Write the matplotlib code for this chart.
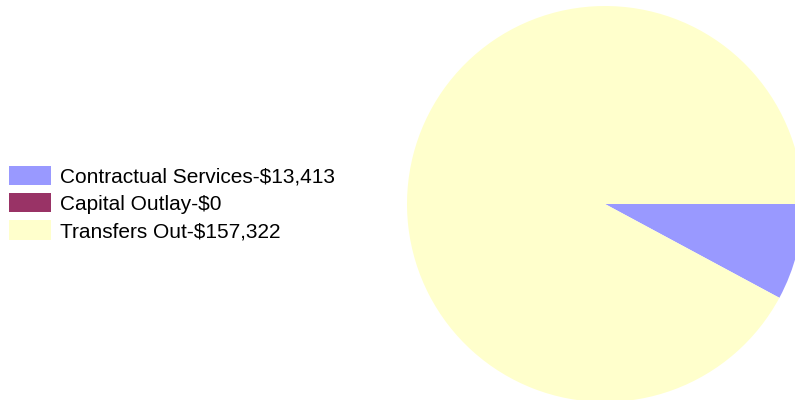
import matplotlib.pyplot as plt

plt.rcParams['font.family'] = ['Liberation Sans', 'DejaVu Sans']

categories = ["Contractual Services", "Capital Outlay", "Transfers Out"]
amounts = [13413, 0, 157322]
colors = ["#9999FF", "#993366", "#FFFFCC"]

labels = [f"{c}-${v:,}" for c, v in zip(categories, amounts)]

fig = plt.figure(figsize=(7.95, 4.0), dpi=100)
ax = fig.add_axes([0, 0, 1, 1])
ax.set_xlim(0, 795)
ax.set_ylim(0, 400)
ax.set_aspect('equal')
ax.axis('off')

wedges, _ = ax.pie(amounts, colors=colors, startangle=0, counterclock=False,
                   center=(605, 196), radius=198,
                   wedgeprops=dict(linewidth=0))
ax.set_xlim(0, 795)
ax.set_ylim(0, 400)

fig.legend(wedges, labels, loc='upper left', bbox_to_anchor=(9 / 795, 1 - 165.5 / 400),
           frameon=False, fontsize=15, borderpad=0, borderaxespad=0,
           handlelength=2.0, handleheight=1.05, handletextpad=0.43, labelspacing=0.32)

fig.savefig("out.png", dpi=100)
